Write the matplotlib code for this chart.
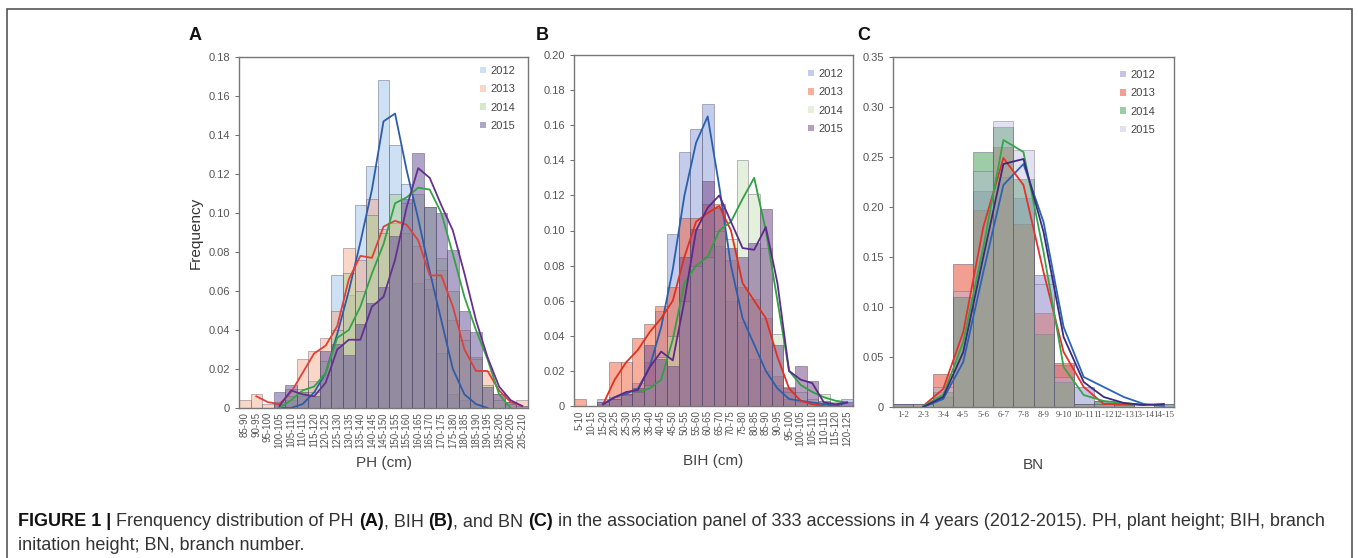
import matplotlib
matplotlib.use("Agg")
import matplotlib.pyplot as plt
import numpy as np
from matplotlib.patches import Patch, Rectangle
from matplotlib.ticker import FuncFormatter

plt.rcParams["font.family"] = ["Liberation Sans", "DejaVu Sans"]

nan = np.nan
YEARS = ["2012", "2013", "2014", "2015"]

# --- A: plant height -------------------------------------------------------
PH_BINS = ["85-90", "90-95", "95-100", "100-105", "105-110", "110-115", "115-120",
           "120-125", "125-130", "130-135", "135-140", "140-145", "145-150",
           "150-155", "155-160", "160-165", "165-170", "170-175", "175-180",
           "180-185", "185-190", "190-195", "195-200", "200-205", "205-210"]
PH_BAR_2012 = [0, 0, 0, 0.002, 0.004, 0.006, 0.014, 0.017, 0.068, 0.058, 0.104, 0.124, 0.168,
               0.135, 0.115, 0.064, 0.061, 0.028, 0.007, 0.004, 0.002, 0, 0, 0, 0]
PH_BAR_2013 = [0.004, 0.007, 0.002, 0.003, 0.010, 0.025, 0.029, 0.036, 0.050, 0.082, 0.076,
               0.107, 0.092, 0.095, 0.090, 0.083, 0.066, 0.071, 0.045, 0.040, 0.026, 0.019,
               0.007, 0.003, 0.004]
PH_BAR_2014 = [0, 0, 0, 0.002, 0.006, 0.010, 0.008, 0.024, 0.040, 0.069, 0.060, 0.099, 0.090,
               0.110, 0.105, 0.110, 0.103, 0.077, 0.060, 0.035, 0.025, 0.012, 0.004, 0.002, 0]
PH_BAR_2015 = [0, 0, 0, 0.008, 0.012, 0.008, 0.006, 0.029, 0.033, 0.027, 0.043, 0.054, 0.062,
               0.088, 0.107, 0.131, 0.103, 0.100, 0.081, 0.050, 0.039, 0.011, 0.007, 0.003, 0.001]
PH_LINE_2012 = [nan, nan, nan, 0.000, 0.000, 0.002, 0.008, 0.018, 0.038, 0.060, 0.085, 0.112,
                0.147, 0.151, 0.122, 0.097, 0.070, 0.045, 0.020, 0.007, 0.002, 0.000, nan, nan, nan]
PH_LINE_2013 = [nan, 0.006, 0.003, 0.002, 0.008, 0.018, 0.028, 0.032, 0.042, 0.066, 0.078,
                0.077, 0.093, 0.096, 0.094, 0.086, 0.068, 0.068, 0.052, 0.030, 0.019, 0.019,
                0.009, 0.003, 0.001]
PH_LINE_2014 = [nan, nan, nan, 0.000, 0.004, 0.009, 0.011, 0.018, 0.036, 0.040, 0.052, 0.069,
                0.084, 0.105, 0.108, 0.113, 0.112, 0.100, 0.079, 0.057, 0.040, 0.025, 0.007,
                0.000, nan]
PH_LINE_2015 = [nan, nan, nan, 0.001, 0.009, 0.007, 0.006, 0.013, 0.030, 0.035, 0.035, 0.052,
                0.057, 0.076, 0.103, 0.123, 0.118, 0.104, 0.091, 0.069, 0.045, 0.026, 0.011,
                0.004, 0.001]

# --- B: branch initiation height --------------------------------------------
BIH_BINS = ["5-10", "10-15", "15-20", "20-25", "25-30", "30-35", "35-40", "40-45", "45-50",
            "50-55", "55-60", "60-65", "65-70", "70-75", "75-80", "80-85", "85-90", "90-95",
            "95-100", "100-105", "105-110", "110-115", "115-120", "120-125"]
BIH_BAR_2012 = [0, 0, 0.004, 0.005, 0.007, 0.013, 0.025, 0.054, 0.098, 0.145, 0.158, 0.172,
                0.091, 0.060, 0.048, 0.027, 0.020, 0.012, 0.004, 0.003, 0.002, 0, 0, 0.004]
BIH_BAR_2013 = [0.004, 0, 0.001, 0.025, 0.025, 0.039, 0.047, 0.057, 0.068, 0.107, 0.107, 0.115,
                0.115, 0.083, 0.068, 0.061, 0.050, 0.017, 0.011, 0.002, 0, 0, 0, 0]
BIH_BAR_2014 = [0, 0, 0.002, 0.004, 0.006, 0.008, 0.012, 0.028, 0.040, 0.060, 0.080, 0.085,
                0.100, 0.095, 0.140, 0.121, 0.090, 0.041, 0.008, 0.008, 0.004, 0.007, 0.002, 0]
BIH_BAR_2015 = [0, 0, 0.002, 0.004, 0.007, 0.010, 0.035, 0.027, 0.023, 0.085, 0.101, 0.128,
                0.113, 0.090, 0.085, 0.093, 0.112, 0.035, 0.010, 0.023, 0.014, 0.003, 0.001, 0.002]
BIH_LINE_2012 = [nan, nan, 0.001, 0.005, 0.007, 0.010, 0.022, 0.045, 0.078, 0.120, 0.150, 0.165,
                 0.125, 0.080, 0.050, 0.035, 0.020, 0.010, 0.004, 0.003, 0.002, 0.001, 0.000, 0.002]
BIH_LINE_2013 = [nan, nan, 0.001, 0.015, 0.025, 0.032, 0.042, 0.050, 0.060, 0.085, 0.105, 0.110,
                 0.114, 0.100, 0.070, 0.060, 0.050, 0.028, 0.010, 0.003, 0.001, 0.000, nan, nan]
BIH_LINE_2014 = [nan, nan, nan, nan, nan, 0.008, 0.010, 0.015, 0.038, 0.070, 0.080, 0.085, 0.100,
                 0.105, 0.118, 0.130, 0.100, 0.060, 0.020, 0.012, 0.008, 0.005, 0.003, 0.002]
BIH_LINE_2015 = [nan, nan, 0.001, 0.005, 0.008, 0.009, 0.022, 0.031, 0.026, 0.060, 0.100, 0.113,
                 0.120, 0.105, 0.090, 0.089, 0.102, 0.070, 0.020, 0.015, 0.013, 0.002, 0.001, 0.002]

# --- C: branch number -------------------------------------------------------
BN_BINS = ["1-2", "2-3", "3-4", "4-5", "5-6", "6-7", "7-8", "8-9", "9-10", "10-11", "11-12",
           "12-13", "13-14", "14-15"]
BN_BAR_2012 = [0.003, 0, 0.010, 0.110, 0.216, 0.230, 0.209, 0.132, 0.042, 0.020, 0.006, 0.004, 0, 0.003]
BN_BAR_2013 = [0.003, 0.003, 0.033, 0.143, 0.197, 0.260, 0.183, 0.094, 0.044, 0.003, 0.003, 0.003, 0, 0]
BN_BAR_2014 = [0.003, 0.003, 0.015, 0.110, 0.255, 0.280, 0.228, 0.073, 0.025, 0.003, 0.006, 0.003, 0, 0.003]
BN_BAR_2015 = [0.003, 0.003, 0.020, 0.116, 0.236, 0.286, 0.257, 0.123, 0.030, 0.003, 0.003, 0.002, 0, 0.003]
BN_LINE_2012 = [nan, 0.000, 0.008, 0.045, 0.135, 0.222, 0.243, 0.185, 0.080, 0.030, 0.020, 0.010, 0.003, 0.001]
BN_LINE_2013 = [nan, 0.001, 0.018, 0.075, 0.180, 0.249, 0.222, 0.135, 0.055, 0.020, 0.003, 0.003, 0.002, nan]
BN_LINE_2014 = [nan, 0.001, 0.012, 0.065, 0.160, 0.267, 0.255, 0.155, 0.040, 0.012, 0.006, 0.004, 0.002, nan]
BN_LINE_2015 = [nan, 0.000, 0.010, 0.055, 0.150, 0.243, 0.248, 0.175, 0.070, 0.025, 0.010, 0.004, 0.002, 0.003]

W, H = 1358, 558


def frac_box(left, top, right, bottom):
    return [left / W, 1 - bottom / H, (right - left) / W, (bottom - top) / H]


def draw_panel(ax, bins, bars, lines, bar_colors, bar_alpha, line_colors, ymax, ystep,
               xtick_kw, legend_anchor):
    x = np.arange(len(bins))
    for vals, c, a in zip(bars, bar_colors, bar_alpha):
        ax.bar(x, vals, width=1.0, color=c, alpha=a,
               edgecolor=(0.32, 0.30, 0.42), linewidth=0.6)
    for vals, c in zip(lines, line_colors):
        ax.plot(x, np.array(vals, dtype=float), color=c, lw=1.3)
    ax.set_xlim(-0.5, len(bins) - 0.5)
    ax.set_ylim(0, ymax)
    ax.set_yticks(np.arange(0, ymax + 1e-9, ystep))
    ax.yaxis.set_major_formatter(FuncFormatter(lambda v, _: "0" if v < 1e-9 else f"{v:.2f}"))
    ax.tick_params(axis="y", labelsize=8, colors="#555555", length=3, width=0.6)
    ax.set_xticks(x)
    ax.set_xticklabels(bins, **xtick_kw)
    ax.tick_params(axis="x", length=0, pad=3, colors="#555555")
    for s in ax.spines.values():
        s.set_color("#777777")
        s.set_linewidth(1.0)
    handles = [Patch(facecolor=c, alpha=a, edgecolor="none")
               for c, a in zip(bar_colors, bar_alpha)]
    ax.legend(handles, YEARS, loc="upper right", bbox_to_anchor=legend_anchor, frameon=False,
              fontsize=8, handlelength=0.55, handleheight=0.55, handletextpad=0.35,
              labelspacing=0.75, borderaxespad=0, borderpad=0, labelcolor="#444444")


fig = plt.figure(figsize=(W / 100, H / 100), dpi=100)

# A
ax_a = fig.add_axes(frac_box(239, 57, 528, 408))
draw_panel(ax_a, PH_BINS,
           [PH_BAR_2012, PH_BAR_2013, PH_BAR_2014, PH_BAR_2015],
           [PH_LINE_2012, PH_LINE_2013, PH_LINE_2014, PH_LINE_2015],
           ["#9cc3ea", "#f4a582", "#a6d08c", "#6c5b9b"], [0.5, 0.45, 0.45, 0.55],
           ["#2f5ca8", "#e0403a", "#35a345", "#66308f"], 0.18, 0.02,
           dict(rotation=90, fontsize=7), (1 - 13 / 289, 1 - 9 / 351))
ax_a.set_ylabel("Frequency", fontsize=11, color="#333333", labelpad=4)
ax_a.set_xlabel("PH (cm)", fontsize=11, color="#444444", labelpad=6)

# B
ax_b = fig.add_axes(frac_box(574, 55, 853, 406))
draw_panel(ax_b, BIH_BINS,
           [BIH_BAR_2012, BIH_BAR_2013, BIH_BAR_2014, BIH_BAR_2015],
           [BIH_LINE_2012, BIH_LINE_2013, BIH_LINE_2014, BIH_LINE_2015],
           ["#8b9bd9", "#f0603a", "#c5dfb0", "#7a4f8f"], [0.5, 0.5, 0.45, 0.55],
           ["#2860b0", "#e0301e", "#30a040", "#5c2a8c"], 0.20, 0.02,
           dict(rotation=90, fontsize=7), (1 - 10 / 279, 1 - 14 / 351))
ax_b.set_xlabel("BIH (cm)", fontsize=11, color="#444444", labelpad=6)

# C
ax_c = fig.add_axes(frac_box(893, 57, 1174, 407))
draw_panel(ax_c, BN_BINS,
           [BN_BAR_2012, BN_BAR_2013, BN_BAR_2014, BN_BAR_2015],
           [BN_LINE_2012, BN_LINE_2013, BN_LINE_2014, BN_LINE_2015],
           ["#8c8fd0", "#e8503a", "#3f9a50", "#b9b6d8"], [0.5, 0.55, 0.5, 0.4],
           ["#2d63b5", "#e8302a", "#35a548", "#3a2a80"], 0.35, 0.05,
           dict(fontsize=6.5, family=["Liberation Serif", "DejaVu Serif"]),
           (1 - 19 / 281, 1 - 13 / 350))
ax_c.set_xlabel("BN", fontsize=11, color="#444444", labelpad=28)

for letter, xpx in (("A", 195), ("B", 542), ("C", 864)):
    fig.text(xpx / W, 1 - 35 / H, letter, fontsize=13, fontweight="bold",
             ha="center", va="center", color="#111111")

# figure frame
fig.add_artist(Rectangle((7 / W, -0.02), (1352 - 7) / W, 1.02 - 9 / H,
                         transform=fig.transFigure, fill=False, edgecolor="#555555", lw=1.2))

# caption with bold pieces
line1 = [("FIGURE 1 | ", True), ("Frenquency distribution of PH ", False), ("(A)", True),
         (", BIH ", False), ("(B)", True), (", and BN ", False), ("(C)", True),
         (" in the association panel of 333 accessions in 4 years (2012-2015). PH, plant "
          "height; BIH, branch", False)]
line2 = [("initation height; BN, branch number.", False)]

renderer = fig.canvas.get_renderer()


def place_line(pieces, x0, ypx, size):
    x = x0
    for s, bold in pieces:
        t = fig.text(x / W, 1 - ypx / H, s, fontsize=size,
                     fontweight="bold" if bold else "normal",
                     color="#111111" if bold else "#333333", va="center", ha="left")
        x += t.get_window_extent(renderer).width
    return x - x0


probe = place_line(line1, 0, -100, 10)
for t in list(fig.texts):
    if t.get_position()[1] > 1:
        t.remove()
cap_size = 10 * (1328 - 18) / probe
place_line(line1, 18, 522, cap_size)
place_line(line2, 18, 545, cap_size)

fig.savefig("out.png", dpi=100)
